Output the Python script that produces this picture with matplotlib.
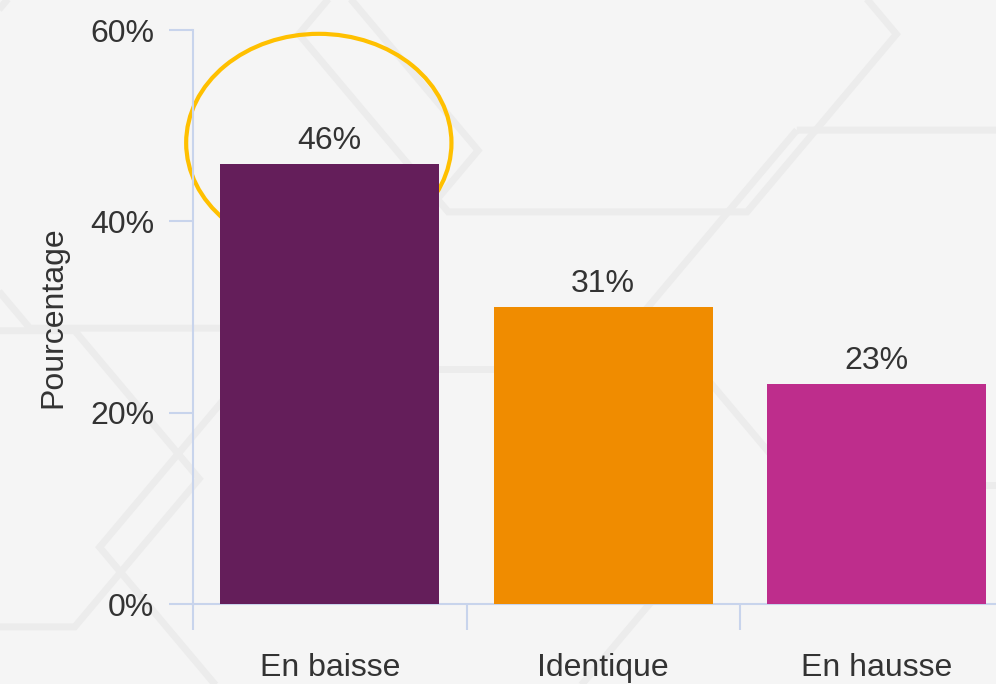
import matplotlib
matplotlib.use("Agg")
import matplotlib.pyplot as plt
from matplotlib.patches import Ellipse, RegularPolygon
from matplotlib.ticker import FuncFormatter

# donnees
categories = ["En baisse", "Identique", "En hausse"]
valeurs = [46, 31, 23]
couleurs = ["#641E5A", "#F08C00", "#BE2D8C"]
yticks = [0, 20, 40, 60]

plt.rcParams['font.family'] = ['Liberation Sans', 'DejaVu Sans']
texte = '#333333'
axe = '#C8D4EC'

fig = plt.figure(figsize=(9.96, 6.84), dpi=100)
fig.patch.set_facecolor('#F5F5F5')

# motif hexagonal discret en fond
for cx, cy, r in [(0.18, 0.78, 0.30), (0.60, 0.95, 0.30), (0.40, 0.20, 0.30), (0.95, 0.55, 0.30), (-0.05, 0.30, 0.25)]:
	hexa = RegularPolygon((cx, cy), 6, radius=r, orientation=0.5236, transform=fig.transFigure,
		facecolor='none', edgecolor='#ECECEC', lw=5, zorder=-5)
	fig.patches.append(hexa)

ax = fig.add_axes([193/996, 80/684, 820.5/996, 574/684])
ax.set_facecolor('none')
ax.set_zorder(2)

x = list(range(len(categories)))
ax.bar(x, valeurs, width=0.8, color=couleurs, zorder=3)

for xi, v in zip(x, valeurs):
	ax.annotate(f"{v}%", (xi, v), xytext=(0, 6), textcoords='offset points',
		ha='center', va='bottom', fontsize=23, color=texte)

# cercle jaune autour de la premiere valeur (passe sous la barre)
ax.add_patch(Ellipse((x[0] - 0.04, valeurs[0] + 2.2), 0.97, 22.8, fill=False,
	edgecolor='#FFC000', lw=3, zorder=2.5, clip_on=False))

ax.set_xlim(-0.5, 2.5)
ax.set_ylim(0, 60)
ax.set_yticks(yticks)
ax.yaxis.set_major_formatter(FuncFormatter(lambda v, p: f"{v:.0f}%"))
ax.set_xticks(x)
ax.set_xticklabels(categories)
ax.set_xticks([-0.5, 0.5, 1.5, 2.5], minor=True)

for s in ['top', 'right']:
	ax.spines[s].set_visible(False)
for s in ['left', 'bottom']:
	ax.spines[s].set_color(axe)
	ax.spines[s].set_linewidth(1.5)

ax.tick_params(axis='y', length=17, width=1.5, color=axe, pad=11, labelsize=23, labelcolor=texte)
ax.tick_params(axis='x', which='major', length=0, pad=35, labelsize=23, labelcolor=texte)
ax.tick_params(axis='x', which='minor', length=19, width=1.5, color=axe)

ax.set_ylabel("Pourcentage", fontsize=23, color=texte)
ax.yaxis.set_label_coords(-0.152, 0.5)

fig.savefig("out.png", dpi=100, facecolor=fig.get_facecolor())
